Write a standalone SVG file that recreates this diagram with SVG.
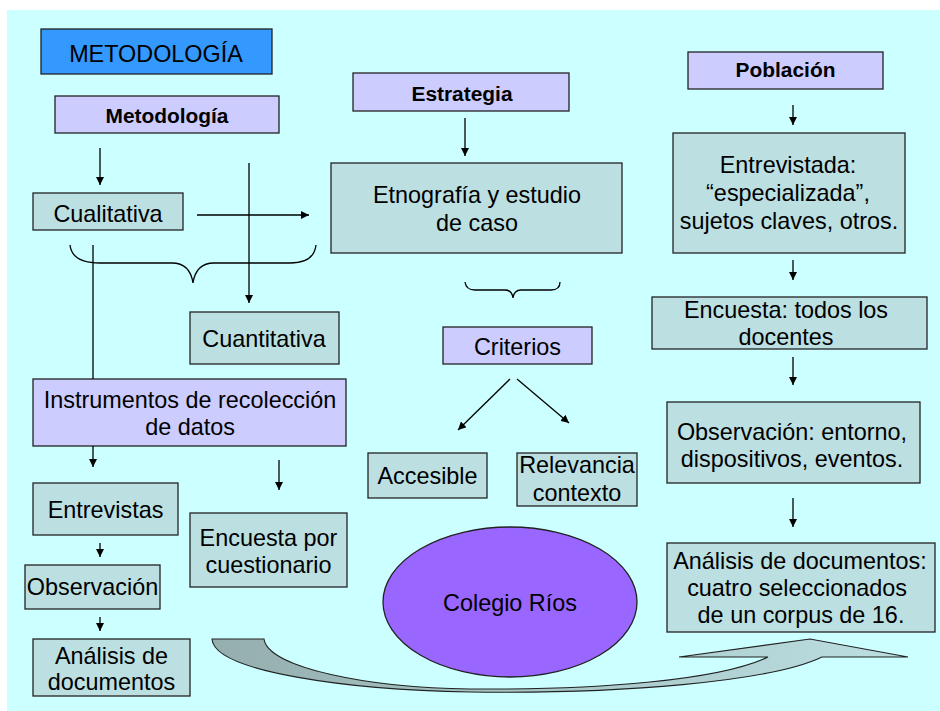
<svg xmlns="http://www.w3.org/2000/svg" width="940" height="711" viewBox="0 0 940 711">
<style>
  .t{font-family:"Liberation Sans",Arial,sans-serif;font-size:23.4px;fill:#000;text-anchor:middle}
  .b{font-family:"Liberation Sans",Arial,sans-serif;font-size:20.9px;font-weight:bold;fill:#000;text-anchor:middle}
  .teal{fill:#BCDFE1;stroke:#222;stroke-width:1.3}
  .lav{fill:#CCCCFF;stroke:#222;stroke-width:1.3}
  .c line,.c path.l{stroke:#000;stroke-width:1.3;fill:none}
</style>
<defs>
  <marker id="ah" viewBox="0 0 10 10" refX="10" refY="5" markerWidth="8" markerHeight="8" markerUnits="userSpaceOnUse" orient="auto">
    <path d="M0,0 L10,5 L0,10 z" fill="#000"/>
  </marker>
  <linearGradient id="ag" x1="0" y1="0" x2="1" y2="0">
    <stop offset="0" stop-color="#95AEAE"/>
    <stop offset="0.5" stop-color="#A9C8C9"/>
    <stop offset="1" stop-color="#BCDFE1"/>
  </linearGradient>
</defs>
<rect x="7" y="10" width="933" height="701" fill="#CCFFFF"/>

<g id="n-metodologia-title"><rect x="41" y="29" width="231" height="45" fill="#3399FF" stroke="#222" stroke-width="1.3"/><text class="t" x="156" y="62">METODOLOGÍA</text></g>
<g id="n-metodologia"><rect class="lav" x="55" y="96" width="224" height="37"/><text class="b" x="167" y="123">Metodología</text></g>
<g id="n-cualitativa"><rect class="teal" x="33" y="193" width="150" height="37"/><text class="t" x="108" y="222">Cualitativa</text></g>
<g id="n-cuantitativa"><rect class="teal" x="190" y="312" width="149" height="52"/><text class="t" x="264" y="347">Cuantitativa</text></g>
<g id="n-instrumentos"><rect class="lav" x="33" y="379" width="313" height="67"/><text class="t" x="190" y="408">Instrumentos de recolección</text><text class="t" x="190" y="435">de datos</text></g>
<g id="n-entrevistas"><rect class="teal" x="33" y="483" width="145" height="52"/><text class="t" x="105.5" y="518">Entrevistas</text></g>
<g id="n-observacion"><rect class="teal" x="25" y="565" width="135" height="44"/><text class="t" x="92.5" y="595">Observación</text></g>
<g id="n-analisis-izq"><rect class="teal" x="33" y="639" width="157" height="57"/><text class="t" x="111.5" y="664">Análisis de</text><text class="t" x="111.5" y="690">documentos</text></g>
<g id="n-encuesta-cuest"><rect class="teal" x="190" y="513" width="157" height="74"/><text class="t" x="268.5" y="546">Encuesta por</text><text class="t" x="268.5" y="573">cuestionario</text></g>

<g id="n-estrategia"><rect class="lav" x="353" y="73" width="216" height="38"/><text class="b" x="462" y="101">Estrategia</text></g>
<g id="n-etnografia"><rect class="teal" x="331" y="163" width="291" height="90"/><text class="t" x="477" y="203">Etnografía y estudio</text><text class="t" x="477" y="231">de caso</text></g>
<g id="n-criterios"><rect class="lav" x="443" y="327" width="149" height="37"/><text class="t" x="517.5" y="355">Criterios</text></g>
<g id="n-accesible"><rect class="teal" x="368" y="453" width="119" height="45"/><text class="t" x="427.5" y="484">Accesible</text></g>
<g id="n-relevancia"><rect class="teal" x="517" y="453" width="120" height="53"/><text class="t" x="577" y="473">Relevancia</text><text class="t" x="577" y="501">contexto</text></g>
<g id="n-colegio"><ellipse cx="510" cy="602" rx="127" ry="75" fill="#9966FF" stroke="#222" stroke-width="1.3"/><text class="t" x="510" y="611">Colegio Ríos</text></g>

<g id="n-poblacion"><rect class="lav" x="688" y="52" width="195" height="37"/><text class="b" x="785.5" y="77">Población</text></g>
<g id="n-entrevistada"><rect class="teal" x="673" y="133" width="232" height="120"/><text class="t" x="788" y="173">Entrevistada:</text><text class="t" x="788" y="201">“especializada”,</text><text class="t" x="789" y="229">sujetos claves, otros.</text></g>
<g id="n-encuesta-doc"><rect class="teal" x="652" y="297" width="275" height="52"/><text class="t" x="786" y="318">Encuesta: todos los</text><text class="t" x="786" y="345">docentes</text></g>
<g id="n-observacion-der"><rect class="teal" x="667" y="402" width="253" height="81"/><text class="t" x="792" y="440">Observación: entorno,</text><text class="t" x="792" y="467">dispositivos, eventos.</text></g>
<g id="n-analisis-der"><rect class="teal" x="667" y="543" width="268" height="89"/><text class="t" x="800" y="569">Análisis de documentos:</text><text class="t" x="797" y="596">cuatro seleccionados</text><text class="t" x="801" y="623"> de un corpus de 16.</text></g>

<g id="connectors" class="c">
  <line x1="100" y1="148" x2="100" y2="185" marker-end="url(#ah)"/>
  <line x1="197" y1="215" x2="309" y2="215" marker-end="url(#ah)"/>
  <line x1="249" y1="163" x2="249" y2="303" marker-end="url(#ah)"/>
  <line x1="93" y1="245" x2="93" y2="379"/>
  <line x1="465" y1="118" x2="465" y2="156" marker-end="url(#ah)"/>
  <line x1="793" y1="105" x2="793" y2="125" marker-end="url(#ah)"/>
  <line x1="793" y1="260" x2="793" y2="280" marker-end="url(#ah)"/>
  <line x1="793" y1="357" x2="793" y2="385" marker-end="url(#ah)"/>
  <line x1="793" y1="498" x2="793" y2="527" marker-end="url(#ah)"/>
  <line x1="510" y1="379" x2="458" y2="430" marker-end="url(#ah)"/>
  <line x1="517" y1="379" x2="569" y2="423" marker-end="url(#ah)"/>
  <line x1="93" y1="446" x2="93" y2="467" marker-end="url(#ah)"/>
  <line x1="279" y1="460" x2="279" y2="490" marker-end="url(#ah)"/>
  <line x1="100" y1="543" x2="100" y2="557" marker-end="url(#ah)"/>
  <line x1="100" y1="617" x2="100" y2="631" marker-end="url(#ah)"/>
  <path class="l" d="M70,245 Q72,263 100,263 L172,263 Q190,263 193,283 Q196,263 214,263 L290,263 Q314,263 316,245"/>
  <path class="l" d="M465,282 Q466,290 475,290 L505,290 Q512,290 513,298 Q514,290 521,290 L551,290 Q560,290 560,282"/>
  <path d="M212,639 L264,639 C268,668 370,688 470,689 C600,690 720,680 768,657 L679,657 L810,639 L908,657 L822,657 C770,682 620,694 470,692 C350,690 214,672 212,639 Z" fill="url(#ag)" stroke="#222" stroke-width="1.1"/>
</g>
</svg>
